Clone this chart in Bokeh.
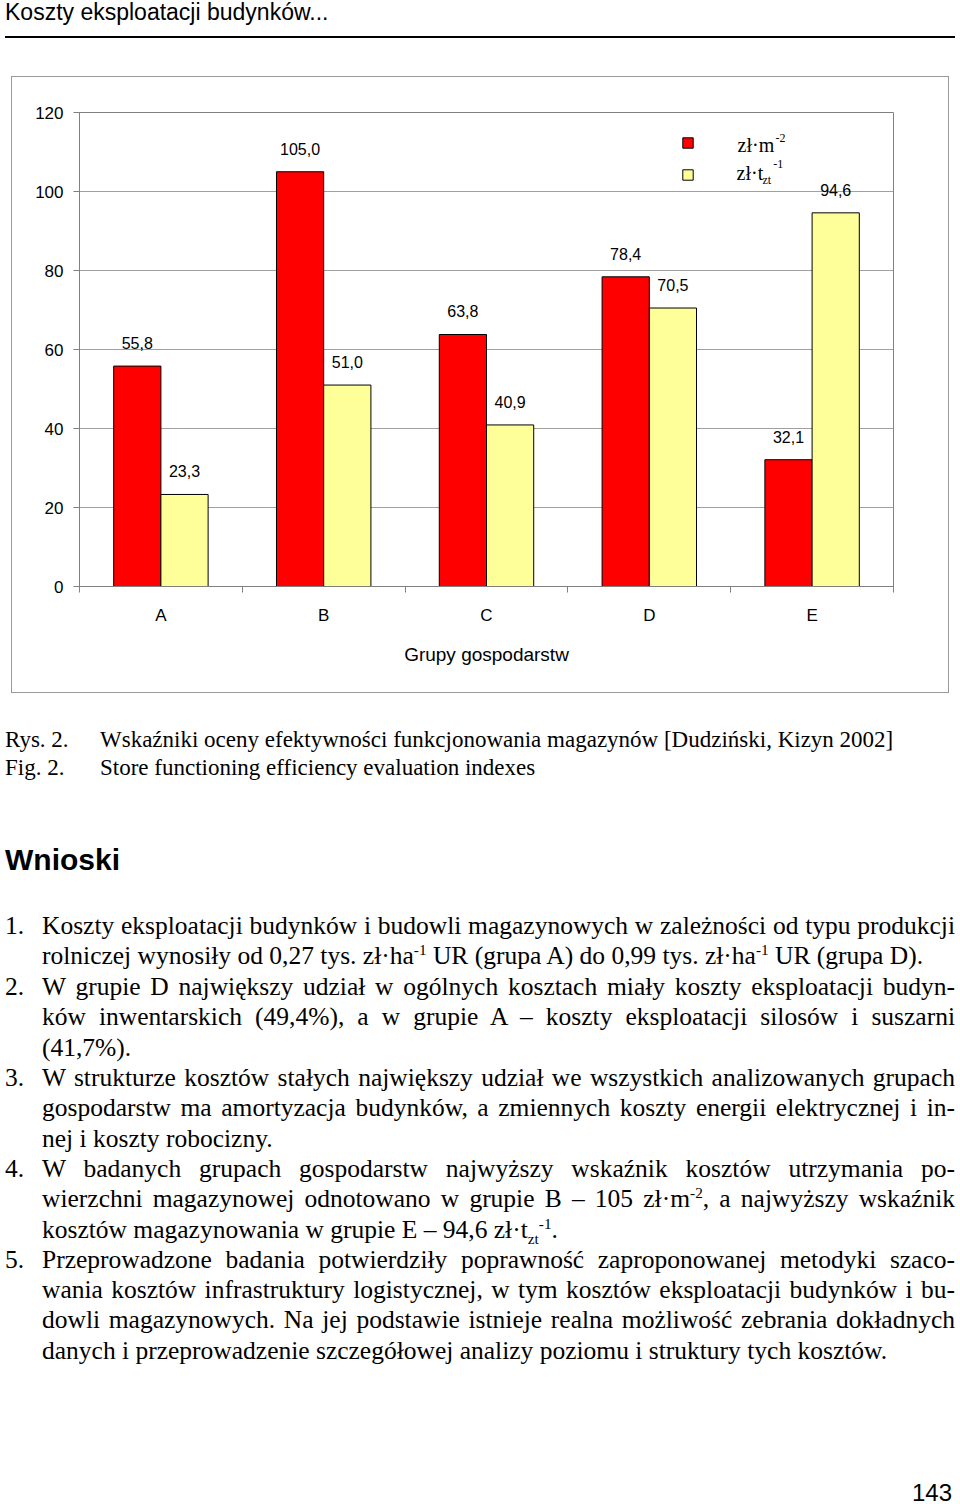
from bokeh.plotting import figure
from bokeh.models import (ColumnDataSource, Range1d, FixedTicker, LabelSet, Label,
                          Legend, LegendItem, Div)
from bokeh.layouts import column
from bokeh.transform import dodge
from bokeh.embed import file_html
from bokeh.resources import INLINE
from bokeh.core.properties import value

# ---------------- data ----------------
categories = ["A", "B", "C", "D", "E"]
cost_per_m2 = [55.8, 105.0, 63.8, 78.4, 32.1]     # zł·m-2 (red)
cost_per_t = [23.3, 51.0, 40.9, 70.5, 94.6]       # zł·t_zt-1 (yellow)
y_ticks = [0, 20, 40, 60, 80, 100, 120]
x_title = "Grupy gospodarstw"

RED = "#ff0000"
YEL = "#ffff99"
SANS = "Liberation Sans"
SERIF = "Liberation Serif"

centers = [i + 0.5 for i in range(len(categories))]
fmt = lambda v: f"{v:.1f}".replace(".", ",")
src = ColumnDataSource(dict(
    x=centers, cat=categories,
    red=cost_per_m2, yel=cost_per_t,
    red_lbl=[fmt(v) for v in cost_per_m2],
    yel_lbl=[fmt(v) for v in cost_per_t],
))

# ---------------- chart ----------------
p = figure(width=936, height=615, x_range=Range1d(0, len(categories)), y_range=Range1d(0, 120),
           output_backend="svg", toolbar_location=None,
           min_border_left=67, min_border_right=55, min_border_top=35, min_border_bottom=106,
           margin=(0, 0, 0, 12))
p.styles = {"outline": "1px solid #9a9a9a"}
p.background_fill_color = "white"
p.border_fill_color = "white"
p.outline_line_color = "#808080"

BW = 0.29
OFF = 0.145
r_red = p.vbar(x=dodge("x", -OFF, range=p.x_range), top="red", width=BW, source=src,
               fill_color=RED, line_color="black", line_width=1)
r_yel = p.vbar(x=dodge("x", OFF, range=p.x_range), top="yel", width=BW, source=src,
               fill_color=YEL, line_color="black", line_width=1)

for col, off in (("red_lbl", -OFF), ("yel_lbl", OFF)):
    ycol = "red" if col == "red_lbl" else "yel"
    p.add_layout(LabelSet(x=dodge("x", off, range=p.x_range), y=ycol, text=col, source=src,
                          text_align="center", text_baseline="alphabetic", y_offset=17,
                          text_font=value(SANS), text_font_size="16px", text_color="black"))

# axes
p.xgrid.visible = False
p.ygrid.ticker = FixedTicker(ticks=y_ticks)
p.ygrid.grid_line_color = "#a0a0a0"

p.yaxis.ticker = FixedTicker(ticks=y_ticks)
p.yaxis.axis_line_color = "#808080"
p.yaxis.major_tick_line_color = "#808080"
p.yaxis.major_tick_out = 6
p.yaxis.major_tick_in = 0
p.yaxis.minor_tick_line_color = None
p.yaxis.major_label_text_font = SANS
p.yaxis.major_label_text_font_size = "17px"
p.yaxis.major_label_text_color = "black"
p.yaxis.major_label_standoff = 10

p.xaxis.ticker = FixedTicker(ticks=centers, minor_ticks=list(range(len(categories) + 1)))
p.xaxis.major_label_overrides = {c: k for c, k in zip(centers, categories)}
p.xaxis.axis_line_color = "#808080"
p.xaxis.major_tick_line_color = None
p.xaxis.major_tick_out = 0
p.xaxis.major_tick_in = 0
p.xaxis.minor_tick_line_color = "#808080"
p.xaxis.minor_tick_out = 6
p.xaxis.minor_tick_in = 0
p.xaxis.major_label_text_font = SANS
p.xaxis.major_label_text_font_size = "17px"
p.xaxis.major_label_text_color = "black"
p.xaxis.major_label_standoff = 13
p.xaxis.axis_label = x_title
p.xaxis.axis_label_text_font = SANS
p.xaxis.axis_label_text_font_size = "19px"
p.xaxis.axis_label_text_font_style = "normal"
p.xaxis.axis_label_text_color = "black"
p.xaxis.axis_label_standoff = 16

# legend squares
leg = Legend(items=[LegendItem(label=" ", renderers=[r_red]),
                    LegendItem(label=" ", renderers=[r_yel])],
             location=(602, 405), glyph_width=13, glyph_height=13, label_height=13,
             label_width=1, label_standoff=0, spacing=19, padding=0, margin=0,
             label_text_font_size="6px", border_line_color=None, background_fill_alpha=0)
p.add_layout(leg)

# legend texts (with super/subscripts)
def lab(x, y, t, size):
    p.add_layout(Label(x=x, y=y, text=t, text_font=SERIF, text_font_size=size,
                       text_align="left", text_baseline="alphabetic", text_color="black"))

lab(4.042, 111.7, "zł·m", "20px")
lab(4.275, 113.6, "-2", "12px")
lab(4.036, 104.6, "zł·t", "20px")
lab(4.195, 103.0, "zt", "12px")
lab(4.262, 106.9, "-1", "12px")

# ---------------- page text ----------------
header = Div(width=960, height=77, margin=0, text=(
    "<div style=\"position:relative;width:960px;height:77px;\">"
    f"<div style=\"position:absolute;left:5px;top:-2px;font-family:'{SANS}';font-size:23px;line-height:28px;white-space:nowrap;color:#000;\">Koszty eksploatacji budynków...</div>"
    "<div style=\"position:absolute;left:5px;top:36px;width:950px;height:2px;background:#000;\"></div>"
    "</div>"))

SUP = "<span style=\"vertical-align:super;font-size:0.6em;line-height:0;\">{}</span>"
SUB = "<span style=\"vertical-align:sub;font-size:0.6em;line-height:0;\">{}</span>"

body_lines = [
    ("1.", "Koszty eksploatacji budynków i budowli magazynowych w zależności od typu produkcji", True),
    ("", "rolniczej wynosiły od 0,27 tys. zł·ha" + SUP.format("-1") + " UR (grupa A) do 0,99 tys. zł·ha" + SUP.format("-1") + " UR (grupa D).", False),
    ("2.", "W grupie D największy udział w ogólnych kosztach miały koszty eksploatacji budyn-", True),
    ("", "ków inwentarskich (49,4%), a w grupie A – koszty eksploatacji silosów i suszarni", True),
    ("", "(41,7%).", False),
    ("3.", "W strukturze kosztów stałych największy udział we wszystkich analizowanych grupach", True),
    ("", "gospodarstw ma amortyzacja budynków, a zmiennych koszty energii elektrycznej i in-", True),
    ("", "nej i koszty robocizny.", False),
    ("4.", "W badanych grupach gospodarstw najwyższy wskaźnik kosztów utrzymania po-", True),
    ("", "wierzchni magazynowej odnotowano w grupie B – 105 zł·m" + SUP.format("-2") + ", a najwyższy wskaźnik", True),
    ("", "kosztów magazynowania w grupie E – 94,6 zł·t" + SUB.format("zt") + SUP.format("-1") + ".", False),
    ("5.", "Przeprowadzone badania potwierdziły poprawność zaproponowanej metodyki szaco-", True),
    ("", "wania kosztów infrastruktury logistycznej, w tym kosztów eksploatacji budynków i bu-", True),
    ("", "dowli magazynowych. Na jej podstawie istnieje realna możliwość zebrania dokładnych", True),
    ("", "danych i przeprowadzenie szczegółowej analizy poziomu i struktury tych kosztów.", False),
]
line_centers = [234, 264, 295, 325, 356, 386, 416, 447, 477, 507, 538, 568, 598, 628, 659]

parts = ["<div style=\"position:relative;width:960px;height:812px;color:#000;\">"]
cap_style = f"position:absolute;font-family:'{SERIF}';font-size:23px;line-height:28px;white-space:nowrap;"
parts.append(f"<div style=\"{cap_style}left:5px;top:34px;\">Rys. 2.</div>")
parts.append(f"<div style=\"{cap_style}left:100px;top:34px;\">Wskaźniki oceny efektywności funkcjonowania magazynów [Dudziński, Kizyn 2002]</div>")
parts.append(f"<div style=\"{cap_style}left:5px;top:62px;\">Fig. 2.</div>")
parts.append(f"<div style=\"{cap_style}left:100px;top:62px;\">Store functioning efficiency evaluation indexes</div>")
parts.append(f"<div style=\"position:absolute;left:5px;top:150px;font-family:'{SANS}';font-size:30px;font-weight:bold;line-height:36px;white-space:nowrap;\">Wnioski</div>")

ln_style = f"position:absolute;font-family:'{SERIF}';font-size:25.5px;line-height:30px;white-space:nowrap;"
for (num, txt, just), cy in zip(body_lines, line_centers):
    top = cy - 15
    if num:
        parts.append(f"<div style=\"{ln_style}left:5px;top:{top}px;\">{num}</div>")
    if just:
        parts.append(f"<div style=\"{ln_style}left:42px;top:{top}px;width:913px;text-align:justify;text-align-last:justify;\">{txt}</div>")
    else:
        parts.append(f"<div style=\"{ln_style}left:42px;top:{top}px;\">{txt}</div>")

parts.append(f"<div style=\"position:absolute;left:900px;top:787px;width:52px;text-align:right;font-family:'{SANS}';font-size:24px;line-height:28px;\">143</div>")
parts.append("</div>")
body = Div(width=960, height=812, margin=0, text="".join(parts))

layout = column(header, p, body, spacing=0, margin=0)
open("out.html", "w").write(file_html(layout, INLINE))
